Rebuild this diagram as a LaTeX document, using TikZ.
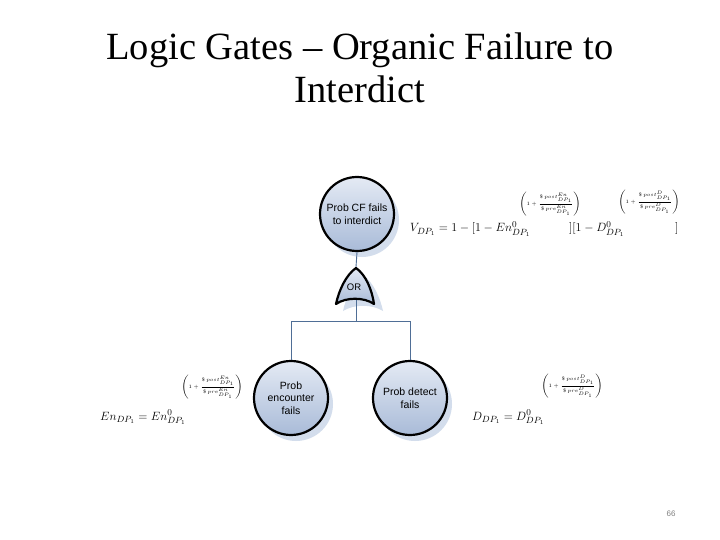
\documentclass[tikz,border=0pt]{standalone}
\usepackage{fontspec}
\setmainfont{Liberation Serif}
\setsansfont{Liberation Sans}
\usetikzlibrary{shadows}
\definecolor{linkblue}{HTML}{4F6E96}
\definecolor{shadowblue}{HTML}{D3DDEC}
\definecolor{fillhi}{HTML}{E4EAF4}
\definecolor{filllo}{HTML}{A9BBD8}
\newcommand{\expo}[1]{\fontsize{5.5}{6.5}\selectfont$\displaystyle\left(1+\frac{\$\,post^{#1}_{DP_1}}{\$\,pre^{#1}_{DP_1}}\right)$}
\begin{document}
\begin{tikzpicture}[x=1pt,y=-1pt,
  circ/.style={circle,draw=black,line width=2.2pt,minimum size=74pt,inner sep=0pt,align=center,
    top color=fillhi,bottom color=filllo,font=\sffamily\fontsize{10.5}{12.5}\selectfont,
    general shadow={shadow xshift=5pt,shadow yshift=-6pt,fill=shadowblue}},
  link/.style={draw=linkblue,line width=0.9pt},
  formula/.style={inner sep=0pt,font=\fontsize{12.5}{15}\selectfont},
  expnode/.style={inner sep=0pt}]
\useasboundingbox (0,0) rectangle (720,540);
\fill[white] (0,0) rectangle (720,540);
% title
\node[font=\fontsize{38.5}{43}\selectfont,align=center] (title) at (360,68) {Logic Gates -- Organic Failure to\\Interdict};
% nodes
\node[circ] (top) at (357,214) {Prob CF fails\\to interdict};
\node[circ] (left) at (291,398) {Prob\\encounter\\fails};
\node[circ] (right) at (410,398) {Prob detect\\fails};
% OR gate
\fill[shadowblue] (363,275) .. controls (373,282) and (380,297) .. (383,311) .. controls (372,304) and (354,304) .. (343,311) .. controls (346,297) and (353,282) .. (363,275) -- cycle;
\draw[line width=2.2pt,top color=fillhi,bottom color=filllo,line join=round] (356,268) .. controls (366,275) and (372,290) .. (374,304) .. controls (364,297) and (346,297) .. (336,304) .. controls (339,290) and (346,275) .. (356,268) -- cycle;
\node[font=\sffamily\fontsize{9.5}{10}\selectfont,inner sep=0pt] (or) at (354,287) {OR};
\coordinate (gtop) at (356,267);
\coordinate (gbot) at (356,300);
\coordinate (bus) at (356,321);
% connectors
\draw[link] (top.south) -- (gtop);
\draw[link] (gbot) -- (bus);
\draw[link] (bus) -| (left.north);
\draw[link] (bus) -| (right.north);
% formulas
\node[formula,anchor=base west] (v1) at (410,232) {$V_{DP_1}=1-[1-En^{0}_{DP_1}$};
\node[expnode] (v1e) at (550,204) {\expo{En}};
\node[formula,anchor=base west] (v2) at (569,232) {$][1-D^{0}_{DP_1}$};
\node[expnode] (v2e) at (649,202) {\expo{D}};
\node[formula,anchor=base west] (v3) at (675,232) {$]$};
\node[formula,anchor=base west] (en) at (100,420) {$En_{DP_1}=En^{0}_{DP_1}$};
\node[expnode] (ene) at (212,387) {\expo{En}};
\node[formula,anchor=base west] (d) at (472,420) {$D_{DP_1}=D^{0}_{DP_1}$};
\node[expnode] (de) at (572,386) {\expo{D}};
% page number
\node[font=\sffamily\fontsize{8}{9}\selectfont,text=gray] (pg) at (671,514) {66};
\end{tikzpicture}
\end{document}
